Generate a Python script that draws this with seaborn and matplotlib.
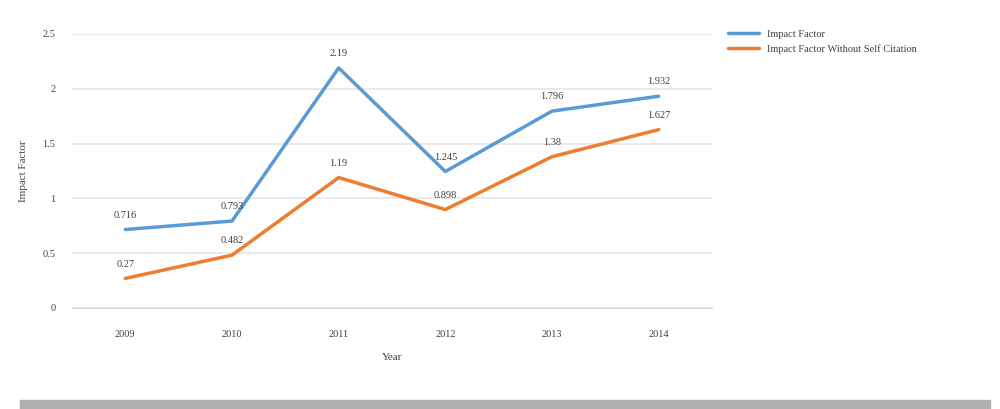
import pandas as pd
import matplotlib.pyplot as plt
import seaborn as sns

# data
years = ["2009", "2010", "2011", "2012", "2013", "2014"]
impact = [0.716, 0.793, 2.19, 1.245, 1.796, 1.932]
impact_no_self = [0.27, 0.482, 1.19, 0.898, 1.38, 1.627]
blue_labels = ["0.716", "0.793", "2.19", "1.245", "1.796", "1.932"]
orange_labels = ["0.27", "0.482", "1.19", "0.898", "1.38", "1.627"]

df = pd.DataFrame({
    "Year": years * 2,
    "Value": impact + impact_no_self,
    "Series": ["Impact Factor"] * 6 + ["Impact Factor Without Self Citation"] * 6,
})

sns.set_style("white")
plt.rcParams["font.family"] = ["Liberation Serif", "DejaVu Serif"]

fig = plt.figure(figsize=(10, 4.09), dpi=100)
ax = fig.add_axes([0.072, 0.247, 0.64, 0.67])
sns.lineplot(data=df, x="Year", y="Value", hue="Series", sort=False,
             palette=["#5B9BD5", "#ED7D31"], linewidth=2.5, ax=ax)

for i in range(6):
    ax.text(i, impact[i] + 0.09, blue_labels[i], ha="center", va="bottom", fontsize=7.5, color="#404040")
    ax.text(i, impact_no_self[i] + 0.09, orange_labels[i], ha="center", va="bottom", fontsize=7.5, color="#404040")

ax.set_ylim(0, 2.5)
ax.set_xlim(-0.5, 5.5)
ax.set_yticks([0, 0.5, 1, 1.5, 2, 2.5])
ax.set_yticklabels(["0", "0.5", "1", "1.5", "2", "2.5"])
ax.yaxis.grid(True, color="#e6e6e6", linewidth=1.2)
for s in ["top", "right", "left"]:
    ax.spines[s].set_visible(False)
ax.spines["bottom"].set_color("#d0d0d0")
ax.tick_params(labelsize=7.5, colors="#404040", length=0)
ax.tick_params(axis="x", pad=16)
ax.tick_params(axis="y", pad=12)
ax.set_xlabel("Year", fontsize=8, color="#404040", labelpad=10)
ax.set_ylabel("Impact Factor", fontsize=8, color="#404040", labelpad=10)

leg = ax.legend(loc="upper left", bbox_to_anchor=(1.01, 1.05), frameon=False, fontsize=7.5, handlelength=3)
for t in leg.get_texts():
    t.set_color("#404040")

# grey bar at bottom
fig.patches.append(plt.Rectangle((0.02, 0.0), 0.97, 0.022, transform=fig.transFigure, color="#b0b0b0"))

fig.savefig("out.png", dpi=100)
